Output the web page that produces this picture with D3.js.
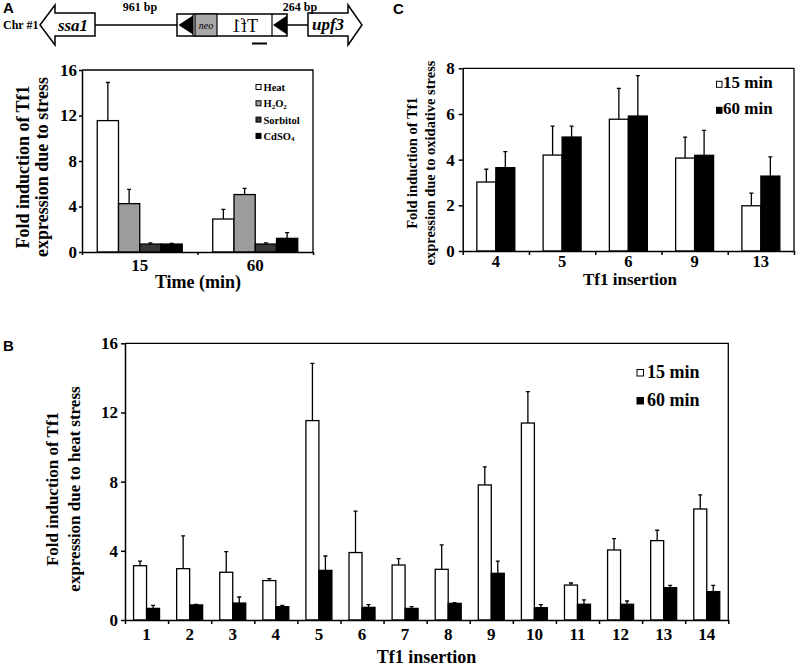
<!DOCTYPE html>
<html><head><meta charset="utf-8">
<script src="https://cdn.jsdelivr.net/npm/d3@7"></script>
<style>
body{margin:0;background:#fff}
svg{display:block}
text{font-family:"Liberation Serif","Times New Roman",serif;font-weight:bold;fill:#000}
</style>
</head><body>
<svg id="c" width="800" height="669"></svg>
<script>
// ---------- Panel A data ----------
const timeCats = ["15", "60"];
const heatA = [11.55, 2.9],   heatAErr = [3.35, 0.85];
const h2o2A = [4.25, 5.05],   h2o2AErr = [1.25, 0.55];
const sorbA = [0.7, 0.7],     sorbAErr = [0.1, 0.1];
const cdso4A = [0.7, 1.2],    cdso4AErr = [0.05, 0.5];
const ticksA = [0, 4, 8, 12, 16];

// ---------- Panel B data ----------
const insertB = ["1","2","3","4","5","6","7","8","9","10","11","12","13","14"];
const b15 = [3.14, 2.97, 2.76, 2.28, 11.53, 3.9, 3.18, 2.93, 7.81, 11.39, 2.02, 4.05, 4.59, 6.42];
const b15Err = [0.27, 1.89, 1.19, 0.11, 3.31, 2.39, 0.37, 1.41, 1.04, 1.81, 0.12, 0.65, 0.6, 0.81];
const b60 = [0.67, 0.87, 0.98, 0.77, 2.87, 0.73, 0.67, 0.96, 2.70, 0.71, 0.91, 0.91, 1.87, 1.64];
const b60Err = [0.18, 0.03, 0.35, 0.08, 0.83, 0.16, 0.1, 0.04, 0.71, 0.18, 0.25, 0.19, 0.13, 0.36];
const ticksB = [0, 4, 8, 12, 16];

// ---------- Panel C data ----------
const insertC = ["4","5","6","9","13"];
const c15 = [3.02, 4.2, 5.77, 4.07, 1.98];
const c15Err = [0.56, 1.27, 1.35, 0.92, 0.55];
const c60 = [3.65, 4.99, 5.91, 4.19, 3.28];
const c60Err = [0.7, 0.48, 1.77, 1.09, 0.84];
const ticksC = [0, 2, 4, 6, 8];

const svg = d3.select("#c");

function drawPanel(o) {
  const g = svg.append("g");
  const n = o.cats.length;
  const x = d3.scaleBand().domain(o.cats).range([o.left, o.right])
    .paddingInner(o.pad).paddingOuter(o.pad / 2);
  const xs = d3.scaleBand().domain(d3.range(o.series.length)).range([0, x.bandwidth()]);
  const y = d3.scaleLinear().domain([0, o.max]).range([o.bottom, o.top]);

  o.series.forEach((s, si) => {
    const sg = g.append("g");
    sg.selectAll("path.err").data(o.cats).join("path").attr("class", "err")
      .attr("d", (d, i) => {
        const cx = x(d) + xs(si) + xs.bandwidth() / 2;
        const yb = y(s.values[i]), yt = y(s.values[i] + s.errs[i]);
        return `M${cx},${yb}V${yt}M${cx - 2},${yt}H${cx + 2}`;
      })
      .attr("stroke", "#000").attr("stroke-width", 1.3).attr("fill", "none");
    sg.selectAll("rect").data(o.cats).join("rect")
      .attr("x", d => x(d) + xs(si)).attr("width", xs.bandwidth())
      .attr("y", (d, i) => y(s.values[i]))
      .attr("height", (d, i) => y(0) - y(s.values[i]))
      .attr("fill", s.fill).attr("stroke", "#000").attr("stroke-width", 1.3);
  });

  // top/right frame
  g.append("path").attr("d", `M${o.left},${o.top}H${o.right}V${o.bottom}`)
    .attr("fill", "none").attr("stroke", "#000").attr("stroke-width", 1.3);

  // y axis
  const ya = g.append("g").attr("transform", `translate(${o.left},0)`)
    .call(d3.axisLeft(y).tickValues(o.yTicks).tickSize(o.tickSize).tickPadding(o.yTickPad).tickSizeOuter(0));
  ya.attr("font-family", null).attr("font-size", o.yTickFont);
  ya.selectAll("line,path").attr("stroke-width", 1.5);

  // x axis with ticks at category boundaries
  const xb = d3.scaleLinear().domain([0, n]).range([o.left, o.right]);
  const xa = g.append("g").attr("transform", `translate(0,${o.bottom})`)
    .call(d3.axisBottom(xb).tickValues(d3.range(n + 1)).tickFormat("").tickSize(o.tickSize).tickSizeOuter(0));
  xa.selectAll("line,path").attr("stroke-width", 1.5);

  g.selectAll("text.xl").data(o.cats).join("text").attr("class", "xl")
    .attr("x", d => x(d) + x.bandwidth() / 2).attr("y", o.xTickBase)
    .attr("text-anchor", "middle").attr("font-size", o.xTickFont).text(d => d);

  g.append("text").attr("x", o.xTitleX).attr("y", o.xTitleBase)
    .attr("text-anchor", "middle").attr("font-size", o.xTitleFont).text(o.xTitle);

  const yt = g.append("g").attr("transform", `translate(0,${o.yTitleCy}) rotate(-90)`);
  o.yTitle.forEach((t, i) => {
    yt.append("text").attr("x", 0).attr("y", o.yTitleBases[i])
      .attr("text-anchor", "middle").attr("font-size", o.yTitleFont).text(t);
  });
  return {x, y, g};
}

// ---------- Panel A ----------
drawPanel({
  left: 82, right: 313, top: 70, bottom: 252, max: 16, pad: 0.264,
  cats: timeCats,
  series: [
    {values: heatA, errs: heatAErr, fill: "#ffffff"},
    {values: h2o2A, errs: h2o2AErr, fill: "#9c9c9c"},
    {values: sorbA, errs: sorbAErr, fill: "#383838"},
    {values: cdso4A, errs: cdso4AErr, fill: "#000000"}
  ],
  yTicks: ticksA, tickSize: 3, yTickPad: 2, yTickFont: 17,
  xTickBase: 271, xTickFont: 17,
  xTitle: "Time (min)", xTitleX: 198, xTitleBase: 288, xTitleFont: 18,
  yTitle: ["Fold induction of Tf1", "expression due to stress"],
  yTitleCy: 167, yTitleBases: [29, 48], yTitleFont: 18
});
// legend A
const legA = [
  {fill: "#ffffff", parts: [["Heat"]]},
  {fill: "#9c9c9c", parts: [["H"], ["2", 1], ["O"], ["2", 1]]},
  {fill: "#383838", parts: [["Sorbitol"]]},
  {fill: "#000000", parts: [["CdSO"], ["4", 1]]}
];
const lgA = svg.append("g");
legA.forEach((l, i) => {
  const yb = 91 + i * 16.3;
  lgA.append("rect").attr("x", 256).attr("y", yb - 6.5).attr("width", 5).attr("height", 5)
    .attr("fill", l.fill).attr("stroke", "#000").attr("stroke-width", 1);
  const t = lgA.append("text").attr("x", 263.5).attr("y", yb).attr("font-size", 10.5);
  l.parts.forEach(p => {
    const ts = t.append("tspan").text(p[0]);
    if (p[1]) ts.attr("font-size", 7).attr("dy", 1.5);
    else if (t.selectAll("tspan").size() > 1) ts.attr("dy", -1.5);
  });
});

// ---------- Panel C ----------
drawPanel({
  left: 462.7, right: 794, top: 68.3, bottom: 251, max: 8, pad: 0.427,
  cats: insertC,
  series: [
    {values: c15, errs: c15Err, fill: "#ffffff"},
    {values: c60, errs: c60Err, fill: "#000000"}
  ],
  yTicks: ticksC, tickSize: 4, yTickPad: 4, yTickFont: 17,
  xTickBase: 267, xTickFont: 16.5,
  xTitle: "Tf1 insertion", xTitleX: 630, xTitleBase: 285, xTitleFont: 17,
  yTitle: ["Fold induction of Tf1", "expression due to oxidative stress"],
  yTitleCy: 163, yTitleBases: [417, 435], yTitleFont: 14.5
});
const legC = [{fill: "#ffffff", label: "15 min", yb: 88.3}, {fill: "#000000", label: "60 min", yb: 114.3}];
legC.forEach(l => {
  svg.append("rect").attr("x", 716.5).attr("y", l.yb - 7).attr("width", 5.5).attr("height", 6)
    .attr("fill", l.fill).attr("stroke", "#000").attr("stroke-width", 1);
  svg.append("text").attr("x", 723).attr("y", l.yb).attr("font-size", 17).text(l.label);
});

// ---------- Panel B ----------
drawPanel({
  left: 125, right: 728.3, top: 343.3, bottom: 620, max: 16, pad: 0.397,
  cats: insertB,
  series: [
    {values: b15, errs: b15Err, fill: "#ffffff"},
    {values: b60, errs: b60Err, fill: "#000000"}
  ],
  yTicks: ticksB, tickSize: 4, yTickPad: 3, yTickFont: 17,
  xTickBase: 640, xTickFont: 17,
  xTitle: "Tf1 insertion", xTitleX: 426.5, xTitleBase: 663, xTitleFont: 18,
  yTitle: ["Fold induction of Tf1", "expression due to heat stress"],
  yTitleCy: 489, yTitleBases: [58, 80], yTitleFont: 17
});
const legB = [{fill: "#ffffff", label: "15 min", yb: 378}, {fill: "#000000", label: "60 min", yb: 406}];
legB.forEach(l => {
  svg.append("rect").attr("x", 637).attr("y", l.yb - 8.5).attr("width", 6.5).attr("height", 6.5)
    .attr("fill", l.fill).attr("stroke", "#000").attr("stroke-width", 1);
  svg.append("text").attr("x", 647).attr("y", l.yb).attr("font-size", 18).text(l.label);
});

// ---------- Panel letters ----------
const letters = [["A", 3, 13], ["C", 393, 14], ["B", 3, 351]];
letters.forEach(([t, x, y]) => svg.append("text").attr("x", x).attr("y", y)
  .style("font-family", "'Liberation Sans', Arial, sans-serif").attr("font-size", 15).text(t));

// ---------- Gene diagram ----------
const dg = svg.append("g");
const line = d3.line();
dg.append("path").attr("d", line([[95, 25], [177, 25]])).attr("stroke", "#000").attr("stroke-width", 1.5);
dg.append("path").attr("d", line([[287, 25], [308, 25]])).attr("stroke", "#000").attr("stroke-width", 1.5);
dg.append("path").attr("d", line([[40, 25], [55, 5], [55, 13], [95, 13], [95, 36], [55, 36], [55, 45]]) + "Z")
  .attr("fill", "#fff").attr("stroke", "#000").attr("stroke-width", 1.5);
dg.append("path").attr("d", line([[308, 13], [348, 13], [348, 5], [362, 25], [348, 45], [348, 36], [308, 36]]) + "Z")
  .attr("fill", "#fff").attr("stroke", "#000").attr("stroke-width", 1.5);
dg.append("rect").attr("x", 177).attr("y", 14).attr("width", 110).attr("height", 22)
  .attr("fill", "#fff").attr("stroke", "#000").attr("stroke-width", 1.5);
dg.append("rect").attr("x", 195).attr("y", 14).attr("width", 22).attr("height", 22)
  .attr("fill", "#a8a8a8").attr("stroke", "#000").attr("stroke-width", 1.2);
dg.append("path").attr("d", line([[193, 14], [193, 36]])).attr("stroke", "#000").attr("stroke-width", 1.2);
dg.append("path").attr("d", line([[272, 14], [272, 36]])).attr("stroke", "#000").attr("stroke-width", 1.2);
dg.append("path").attr("d", line([[178.5, 25], [193, 15.5], [193, 34.5]]) + "Z").attr("fill", "#000");
dg.append("path").attr("d", line([[273, 25], [287, 15.5], [287, 34.5]]) + "Z").attr("fill", "#000");
dg.append("path").attr("d", line([[252, 43.5], [267, 43.5]])).attr("stroke", "#000").attr("stroke-width", 2);
dg.append("text").attr("x", 206).attr("y", 28.5).attr("text-anchor", "middle")
  .attr("font-size", 10).style("font-style", "italic").style("font-weight", "normal").text("neo");
dg.append("text").attr("transform", "translate(245,31.5) scale(-1,1)").attr("text-anchor", "middle")
  .attr("font-size", 18).style("font-weight", "normal").text("Tf1");
dg.append("text").attr("x", 73).attr("y", 31).attr("text-anchor", "middle")
  .attr("font-size", 17).style("font-style", "italic").text("ssa1");
dg.append("text").attr("x", 328).attr("y", 30).attr("text-anchor", "middle")
  .attr("font-size", 17).style("font-style", "italic").text("upf3");
dg.append("text").attr("x", 3).attr("y", 29).attr("font-size", 12).text("Chr #1");
dg.append("text").attr("x", 140).attr("y", 11).attr("text-anchor", "middle").attr("font-size", 12).text("961 bp");
dg.append("text").attr("x", 300).attr("y", 11).attr("text-anchor", "middle").attr("font-size", 12).text("264 bp");
</script>
</body></html>
